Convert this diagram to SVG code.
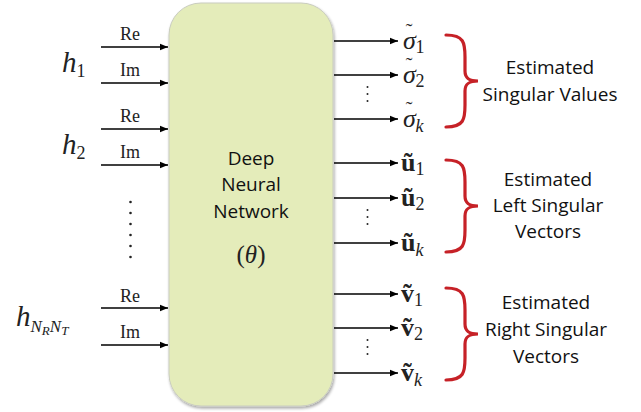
<svg xmlns="http://www.w3.org/2000/svg" width="641" height="412" viewBox="0 0 641 412">
<defs>
<marker id="ah" viewBox="0 0 10 10" refX="10" refY="5" markerWidth="8" markerHeight="8" markerUnits="userSpaceOnUse" orient="auto">
<path d="M0,1 L10,5 L0,9 Z" fill="#000"/>
</marker>
<filter id="sh" x="-10%" y="-10%" width="120%" height="120%">
<feGaussianBlur in="SourceAlpha" stdDeviation="1.5"/>
<feOffset dx="1" dy="2"/>
<feComponentTransfer><feFuncA type="linear" slope="0.35"/></feComponentTransfer>
<feMerge><feMergeNode/><feMergeNode in="SourceGraphic"/></feMerge>
</filter>
<path id="brace" d="M0,0 C18,0 19,8 19,22 L19,36 C19,44 24,46 32,46 C24,46 19,48 19,56 L19,70 C19,84 18,92 0,92" fill="none" stroke="#c62127" stroke-width="3.2" stroke-linecap="round"/>
</defs>
<style>
.ln{stroke:#000;stroke-width:1.6;fill:none;marker-end:url(#ah)}
.ri{font-family:"Liberation Serif",serif;font-size:18px;fill:#222;text-anchor:middle}
.m{font-family:"Liberation Serif","DejaVu Serif",serif;font-style:italic;fill:#222}
.mb{font-family:"Liberation Serif","DejaVu Serif",serif;font-weight:bold;fill:#222}
.sub{font-family:"Liberation Serif",serif;font-style:normal;font-weight:normal;font-size:18px}
.subk{font-family:"Liberation Serif",serif;font-style:italic;font-weight:normal;font-size:18px}
.til{font-style:normal;font-size:20px}
.lab{font-family:"Open Sans","Noto Sans",sans-serif;font-size:19px;fill:#111;text-anchor:middle}
.dot{fill:#222}
</style>
<rect width="641" height="412" fill="#fff"/>
<g id="dnn">
<rect x="169" y="3" width="164" height="403" rx="32" ry="32" fill="#e4ecba" stroke="#c9ccbf" stroke-width="1" filter="url(#sh)"/>
<text class="lab" x="251" y="165">Deep</text>
<text class="lab" x="251" y="191">Neural</text>
<text class="lab" x="251" y="218">Network</text>
<text x="251" y="263" font-family="Liberation Serif,serif" font-size="25" text-anchor="middle" fill="#222">(<tspan font-style="italic">θ</tspan>)</text>
</g>
<g id="inputs">
<text class="m" x="62" y="72" font-size="29">h<tspan class="sub" dy="5">1</tspan></text>
<text class="m" x="62" y="154" font-size="29">h<tspan class="sub" dy="5">2</tspan></text>
<text class="m" x="16" y="326" font-size="29">h<tspan font-size="17" dy="6">N</tspan><tspan font-size="13" dy="3">R</tspan><tspan font-size="17" dy="-3">N</tspan><tspan font-size="13" dy="3">T</tspan></text>
<text class="ri" x="130" y="40">Re</text>
<text class="ri" x="130" y="76">Im</text>
<text class="ri" x="130" y="122">Re</text>
<text class="ri" x="130" y="158">Im</text>
<text class="ri" x="130" y="302">Re</text>
<text class="ri" x="130" y="338">Im</text>
<g class="dot">
<circle cx="130.5" cy="202" r="1.3"/><circle cx="130.5" cy="213" r="1.3"/><circle cx="130.5" cy="224" r="1.3"/><circle cx="130.5" cy="235" r="1.3"/><circle cx="130.5" cy="246" r="1.3"/><circle cx="130.5" cy="257" r="1.3"/>
</g>
</g>
<g id="connectors">
<line class="ln" x1="101" y1="47" x2="168" y2="47"/>
<line class="ln" x1="101" y1="83" x2="168" y2="83"/>
<line class="ln" x1="101" y1="129" x2="168" y2="129"/>
<line class="ln" x1="101" y1="165" x2="168" y2="165"/>
<line class="ln" x1="101" y1="308" x2="168" y2="308"/>
<line class="ln" x1="101" y1="345" x2="168" y2="345"/>
<line class="ln" x1="334" y1="41" x2="398" y2="41"/>
<line class="ln" x1="334" y1="75" x2="398" y2="75"/>
<line class="ln" x1="334" y1="119" x2="398" y2="119"/>
<line class="ln" x1="334" y1="163" x2="398" y2="163"/>
<line class="ln" x1="334" y1="198" x2="398" y2="198"/>
<line class="ln" x1="334" y1="243" x2="398" y2="243"/>
<line class="ln" x1="334" y1="294" x2="398" y2="294"/>
<line class="ln" x1="334" y1="328" x2="398" y2="328"/>
<line class="ln" x1="334" y1="373" x2="398" y2="373"/>
</g>
<g id="sigma">
<text class="m" x="403" y="49" font-size="26">σ<tspan class="til" dx="-10" dy="-11">˜</tspan><tspan class="sub" dx="3" dy="15">1</tspan></text>
<text class="m" x="403" y="83" font-size="26">σ<tspan class="til" dx="-10" dy="-11">˜</tspan><tspan class="sub" dx="3" dy="15">2</tspan></text>
<text class="m" x="403" y="127" font-size="26">σ<tspan class="til" dx="-10" dy="-11">˜</tspan><tspan class="subk" dx="3" dy="16">k</tspan></text>
<g class="dot"><circle cx="367.5" cy="87" r="1"/><circle cx="367.5" cy="94" r="1"/><circle cx="367.5" cy="101" r="1"/></g>
<use href="#brace" x="446" y="35"/>
<text class="lab" x="550" y="74">Estimated</text>
<text class="lab" x="550" y="101">Singular Values</text>
</g>
<g id="uvec">
<text class="mb" x="401" y="171" font-size="26">ũ<tspan class="sub" dy="4">1</tspan></text>
<text class="mb" x="401" y="206" font-size="26">ũ<tspan class="sub" dy="4">2</tspan></text>
<text class="mb" x="401" y="251" font-size="26">ũ<tspan class="subk" dy="5">k</tspan></text>
<g class="dot"><circle cx="367.5" cy="210" r="1"/><circle cx="367.5" cy="217" r="1"/><circle cx="367.5" cy="224" r="1"/></g>
<use href="#brace" x="446" y="160"/>
<text class="lab" x="548" y="186">Estimated</text>
<text class="lab" x="548" y="212">Left Singular</text>
<text class="lab" x="548" y="238">Vectors</text>
</g>
<g id="vvec">
<text class="mb" x="401" y="302" font-size="26">ṽ<tspan class="sub" dy="4">1</tspan></text>
<text class="mb" x="401" y="336" font-size="26">ṽ<tspan class="sub" dy="4">2</tspan></text>
<text class="mb" x="401" y="381" font-size="26">ṽ<tspan class="subk" dy="5">k</tspan></text>
<g class="dot"><circle cx="367.5" cy="340" r="1"/><circle cx="367.5" cy="347" r="1"/><circle cx="367.5" cy="354" r="1"/></g>
<use href="#brace" x="446" y="288"/>
<text class="lab" x="546" y="309">Estimated</text>
<text class="lab" x="546" y="336">Right Singular</text>
<text class="lab" x="546" y="363">Vectors</text>
</g>
</svg>
